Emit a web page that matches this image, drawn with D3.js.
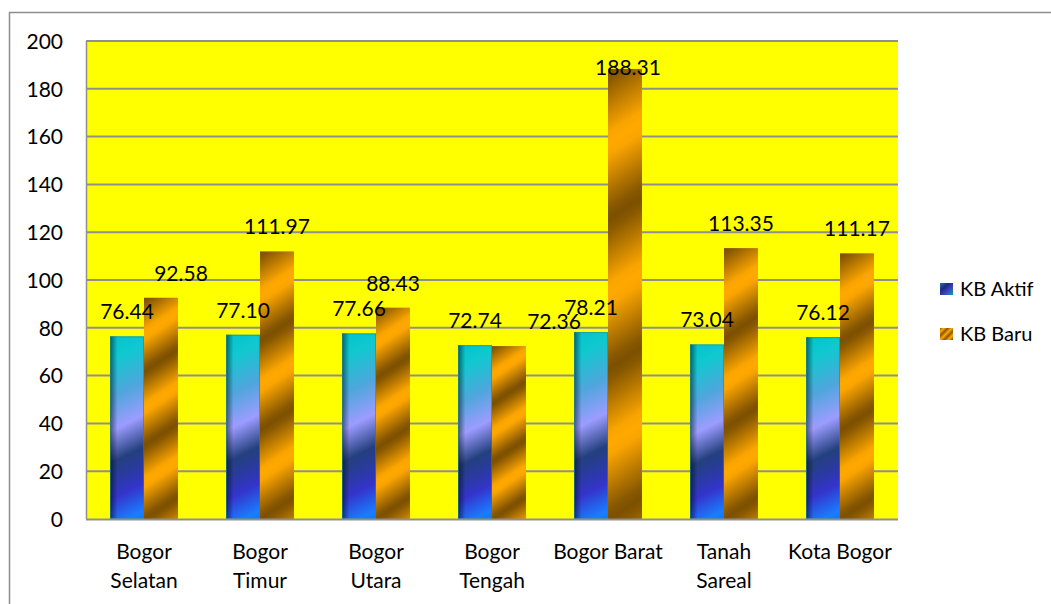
<!DOCTYPE html>
<html>
<head>
<meta charset="utf-8">
<script src="https://cdn.jsdelivr.net/npm/d3@7"></script>
<style>
  html, body { margin: 0; padding: 0; background: #fff; }
  svg { display: block; font-family: Lato, "Open Sans", sans-serif; }
</style>
</head>
<body>
<svg id="chart" width="1051" height="604"></svg>
<script>
// Chart data ("\n" marks where a category name breaks onto a second line)
const categories = ["Bogor\nSelatan", "Bogor\nTimur", "Bogor\nUtara", "Bogor\nTengah", "Bogor Barat", "Tanah\nSareal", "Kota Bogor"];
const seriesNames = ["KB Aktif", "KB Baru"];
const kbAktif = [76.44, 77.10, 77.66, 72.74, 78.21, 73.04, 76.12];
const kbBaru = [92.58, 111.97, 88.43, 72.36, 188.31, 113.35, 111.17];
const yTicks = [0, 20, 40, 60, 80, 100, 120, 140, 160, 180, 200];

// Hand-placed horizontal nudges (px) for crowded value labels
const labelNudgeAktif = [0, 0, 0, 0, 0, 0, 0];
const labelNudgeBaru = [20, 0, 0, 45, 3, 0, 0];

const FONT = "Lato, sans-serif";
const FONT_SIZE = 21;

const svg = d3.select("#chart");
const plot = { left: 86, right: 898, top: 41, bottom: 519 };

const x0 = d3.scaleBand()
  .domain(categories)
  .range([plot.left, plot.right])
  .paddingInner(0.414)
  .paddingOuter(0.207);
const x1 = d3.scaleBand().domain(seriesNames).range([0, x0.bandwidth()]);
const y = d3.scaleLinear().domain([0, 200]).range([plot.bottom, plot.top]);

const defs = svg.append("defs");

// Outer chart frame (left and top edges visible)
svg.append("path")
  .attr("d", `M9.5,604 L9.5,12.5 L1051,12.5`)
  .attr("fill", "none").attr("stroke", "#8e8e8e").attr("stroke-width", 1.5);

// Plot background
svg.append("rect")
  .attr("x", plot.left).attr("y", plot.top)
  .attr("width", plot.right - plot.left).attr("height", plot.bottom - plot.top)
  .attr("fill", "#ffff00");

// Horizontal gridlines
svg.append("g")
  .selectAll("line")
  .data(yTicks.filter(t => t > 0))
  .join("line")
  .attr("x1", plot.left).attr("x2", plot.right)
  .attr("y1", d => y(d)).attr("y2", d => y(d))
  .attr("stroke", "#8f8f8f").attr("stroke-width", 2);

// Left edge of plot
svg.append("line")
  .attr("x1", plot.left + 0.5).attr("x2", plot.left + 0.5)
  .attr("y1", plot.top).attr("y2", plot.bottom)
  .attr("stroke", "#8f8f8f").attr("stroke-width", 1.5);

// Y axis tick labels
const yAxis = d3.axisLeft(y).tickValues(yTicks).tickSize(0).tickPadding(0).tickFormat(d3.format("d"));
const yg = svg.append("g").attr("transform", `translate(${plot.left - 23},0)`).call(yAxis);
yg.select(".domain").remove();
yg.selectAll("text")
  .attr("font-family", FONT).attr("font-size", FONT_SIZE)
  .attr("fill", "#000").attr("dy", "0.35em");

// Gradient for KB Aktif bars: diagonal blend, teal top to blue bottom
function aktifGradient(id, x, top, w, h) {
  const k = 0.5 * h;
  const g = defs.append("linearGradient").attr("id", id)
    .attr("gradientUnits", "userSpaceOnUse")
    .attr("x1", x + w / 2 - k / 2).attr("y1", top)
    .attr("x2", x + w / 2 + k / 2).attr("y2", top + h);
  const stops = [
    [0, "#16707e"], [0.08, "#04c4cc"], [0.17, "#10c8d0"], [0.33, "#4ea6dc"],
    [0.48, "#9c9cff"], [0.62, "#24407e"], [0.7, "#2a3aa0"], [0.78, "#3434cc"],
    [0.9, "#1a7cff"], [1, "#1468e0"]
  ];
  stops.forEach(([o, c]) => g.append("stop").attr("offset", o).attr("stop-color", c));
}

// Gradient for KB Baru bars: reflected diagonal gold/brown stripes
function baruGradient(id, x, top, w, h) {
  const half = (h / 6) * 0.84;
  const ux = 0.545, uy = 0.838;
  const g = defs.append("linearGradient").attr("id", id)
    .attr("gradientUnits", "userSpaceOnUse")
    .attr("spreadMethod", "reflect")
    .attr("x1", x).attr("y1", top)
    .attr("x2", x + ux * half).attr("y2", top + uy * half);
  g.append("stop").attr("offset", 0).attr("stop-color", "#7c5000");
  g.append("stop").attr("offset", 0.15).attr("stop-color", "#8a5900");
  g.append("stop").attr("offset", 0.85).attr("stop-color", "#f9a400");
  g.append("stop").attr("offset", 1).attr("stop-color", "#ffa800");
}

// Darkened left edge on the Aktif bars
const edge = defs.append("linearGradient").attr("id", "edgeShade")
  .attr("x1", 0).attr("y1", 0).attr("x2", 1).attr("y2", 0);
edge.append("stop").attr("offset", 0).attr("stop-color", "#000").attr("stop-opacity", 0.5);
edge.append("stop").attr("offset", 0.22).attr("stop-color", "#000").attr("stop-opacity", 0);
edge.append("stop").attr("offset", 1).attr("stop-color", "#000").attr("stop-opacity", 0);

const rows = categories.map((c, i) => ({ cat: c, i, vals: [kbAktif[i], kbBaru[i]] }));

const groups = svg.append("g").selectAll("g")
  .data(rows).join("g")
  .attr("transform", d => `translate(${x0(d.cat)},0)`);

// Bars (gradient coordinates are in each group's local space)
groups.each(function (d) {
  const g = d3.select(this);
  seriesNames.forEach((s, si) => {
    const v = d.vals[si];
    const bx = x1(s), bw = x1.bandwidth();
    const top = y(v), h = y(0) - y(v);
    const id = `g${si}_${d.i}`;
    if (si === 0) aktifGradient(id, bx, top, bw, h);
    else baruGradient(id, bx, top, bw, h);
    g.append("rect")
      .attr("x", bx).attr("y", top).attr("width", bw).attr("height", h)
      .attr("fill", `url(#${id})`);
    if (si === 0) {
      g.append("rect")
        .attr("x", bx).attr("y", top).attr("width", bw).attr("height", h)
        .attr("fill", "url(#edgeShade)");
      g.append("rect")
        .attr("x", bx + 0.5).attr("y", top + 0.5).attr("width", bw - 1).attr("height", h - 1)
        .attr("fill", "none").attr("stroke", "#1d8a96").attr("stroke-opacity", 0.6);
    }
  });
});

// Baseline axis line
svg.append("line")
  .attr("x1", plot.left).attr("x2", plot.right)
  .attr("y1", plot.bottom + 0.5).attr("y2", plot.bottom + 0.5)
  .attr("stroke", "#8f8f8f").attr("stroke-width", 2);

// Value labels above each bar (kept inside the plot area)
const labels = svg.append("g")
  .attr("font-family", FONT).attr("font-size", FONT_SIZE)
  .attr("fill", "#000").attr("text-anchor", "middle");
rows.forEach(d => {
  seriesNames.forEach((s, si) => {
    const v = d.vals[si];
    const nudge = si === 0 ? labelNudgeAktif[d.i] : labelNudgeBaru[d.i];
    const cx = x0(d.cat) + x1(s) + x1.bandwidth() / 2 + nudge;
    const base = Math.max(y(v) - 17, plot.top + 34);
    labels.append("text").attr("x", cx).attr("y", base).text(v.toFixed(2));
  });
});

// Category labels
const catG = svg.append("g")
  .attr("font-family", FONT).attr("font-size", FONT_SIZE)
  .attr("fill", "#000").attr("text-anchor", "middle");
categories.forEach(c => {
  const cx = x0(c) + x0.bandwidth() / 2;
  const t = catG.append("text");
  c.split("\n").forEach((line, li) => {
    t.append("tspan").attr("x", cx).attr("y", 559 + li * 29).text(line);
  });
});

// Legend
const legend = svg.append("g");
const lgA = defs.append("linearGradient").attr("id", "lgA")
  .attr("x1", 0).attr("y1", 0).attr("x2", 1).attr("y2", 1);
[[0, "#2a6fa0"], [0.35, "#1a2a80"], [0.6, "#3a40c0"], [1, "#10a0b0"]]
  .forEach(([o, c]) => lgA.append("stop").attr("offset", o).attr("stop-color", c));
const lgB = defs.append("linearGradient").attr("id", "lgB")
  .attr("gradientUnits", "userSpaceOnUse").attr("spreadMethod", "reflect")
  .attr("x1", 940).attr("y1", 328).attr("x2", 942).attr("y2", 330);
lgB.append("stop").attr("offset", 0).attr("stop-color", "#8a5900");
lgB.append("stop").attr("offset", 1).attr("stop-color", "#ffa800");

const legendY = [289, 334];
seriesNames.forEach((s, i) => {
  legend.append("rect")
    .attr("x", 940).attr("y", legendY[i] - 6).attr("width", 13).attr("height", 12)
    .attr("fill", i === 0 ? "url(#lgA)" : "url(#lgB)");
  legend.append("text")
    .attr("x", 960).attr("y", legendY[i] + 7)
    .attr("font-family", FONT).attr("font-size", 20)
    .attr("fill", "#000").text(s);
});
</script>
</body>
</html>
